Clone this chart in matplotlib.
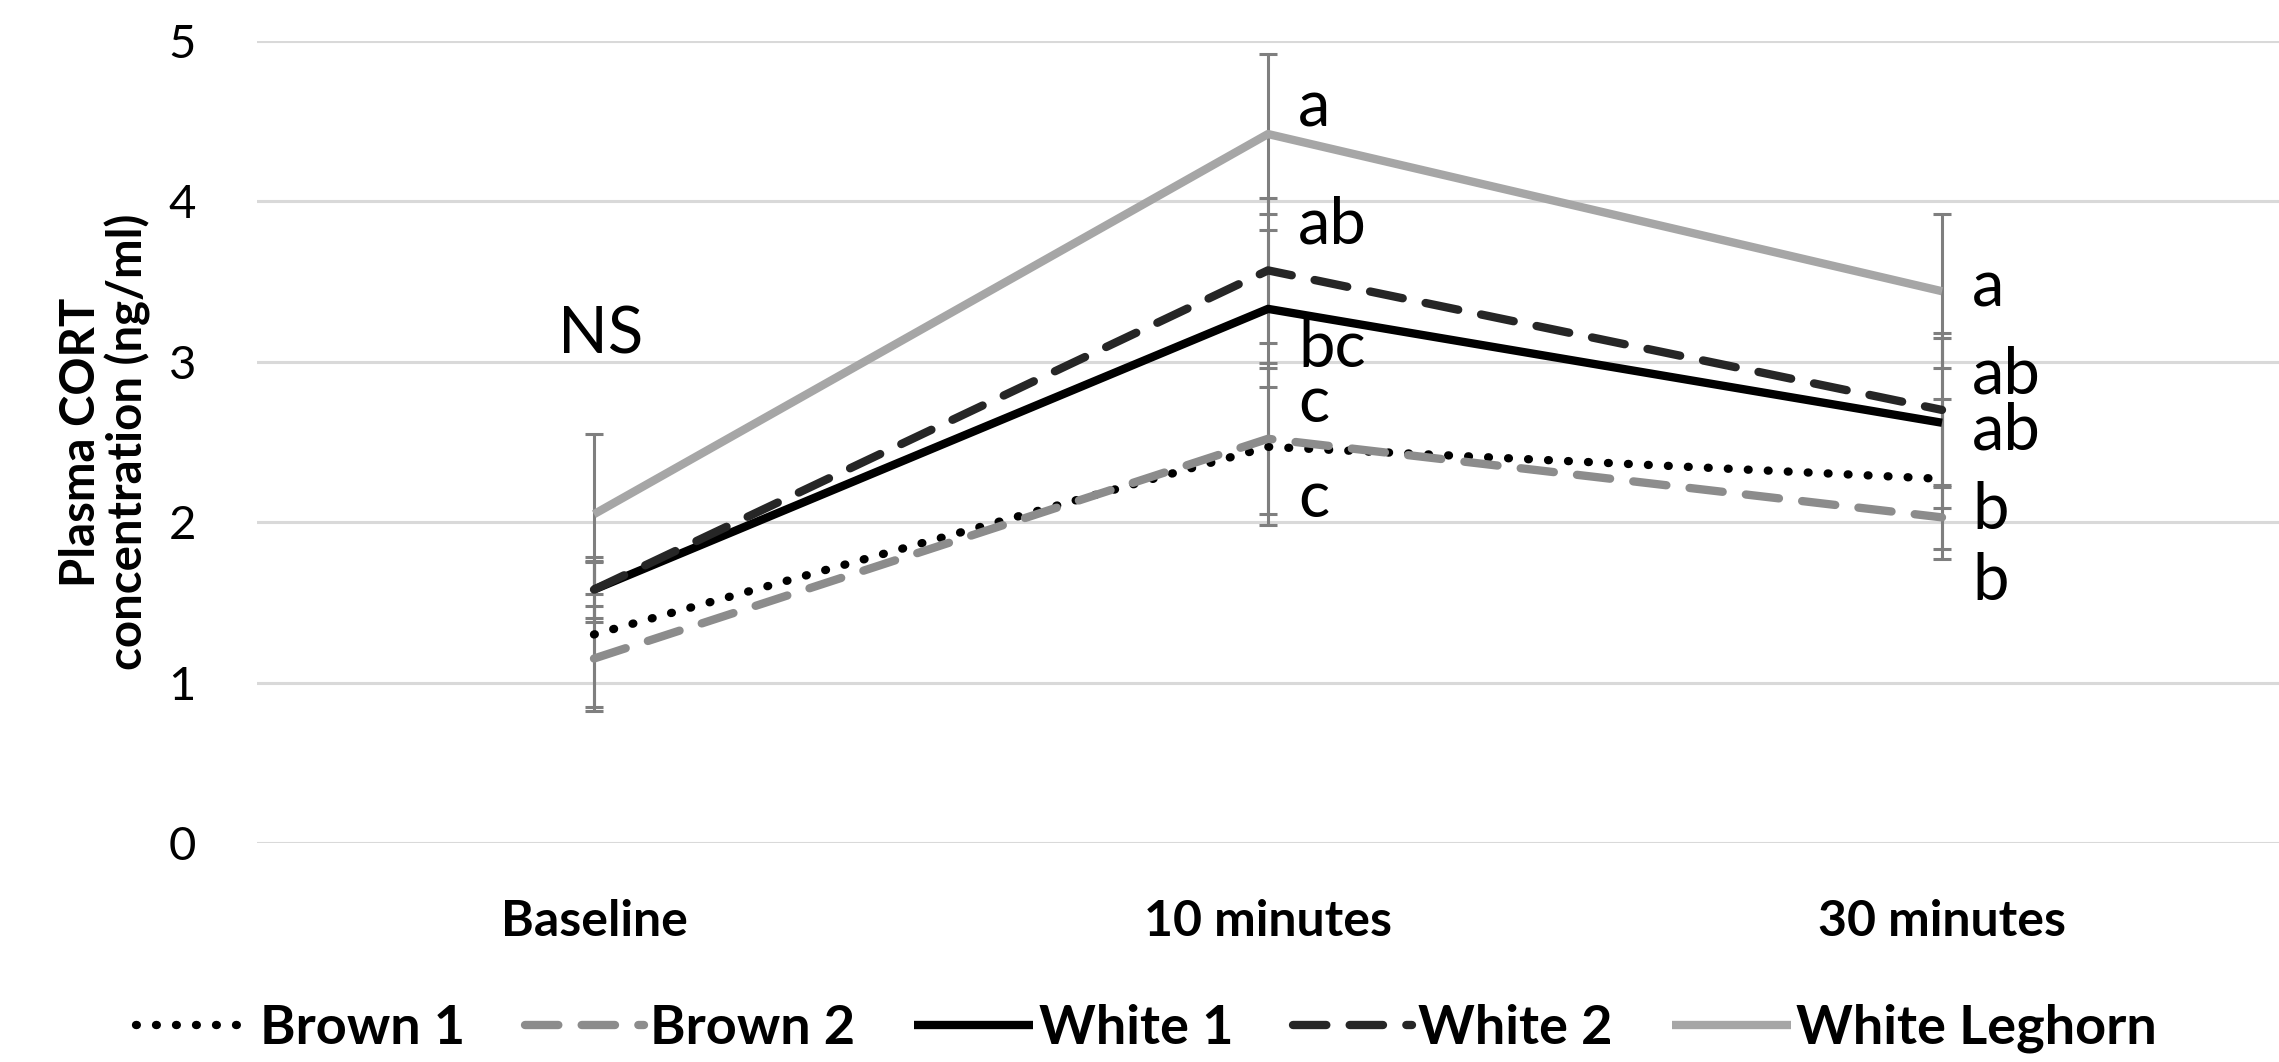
import numpy as np
import matplotlib
matplotlib.use("Agg")
import matplotlib.pyplot as plt

plt.rcParams['font.family'] = ['Lato', 'DejaVu Sans']

# data
categories = ["Baseline", "10 minutes", "30 minutes"]
series = ["Brown 1", "Brown 2", "White 1", "White 2", "White Leghorn"]
brown1 = [1.30, 2.47, 2.27]
brown2 = [1.15, 2.52, 2.03]
white1 = [1.58, 3.33, 2.62]
white2 = [1.58, 3.57, 2.70]
leghorn = [2.05, 4.42, 3.44]
brown1_err = [0.45, 0.49, 0.50]
brown2_err = [0.33, 0.47, 0.20]
white1_err = [0.18, 0.49, 0.53]
white2_err = [0.20, 0.45, 0.48]
leghorn_err = [0.50, 0.50, 0.48]

# significance letters (category index, y, text)
sig_x = [0, 1, 1, 1, 1, 1, 2, 2, 2, 2, 2]
sig_y = [3.17, 4.58, 3.85, 3.08, 2.74, 2.15, 3.46, 2.92, 2.57, 2.07, 1.63]
sig_text = ["NS", "a", "ab", "bc", "c", "c", "a", "ab", "ab", "b", "b"]

values = [brown1, brown2, white1, white2, leghorn]
errors = [brown1_err, brown2_err, white1_err, white2_err, leghorn_err]
colors = ["black", "#8c8c8c", "black", "#262626", "#a6a6a6"]
styles = [(0, (0.1, 2.3)), (0, (4, 2.8)), "-", (0, (4, 2.8)), "-"]
caps = ["round", "round", "butt", "round", "butt"]

fig = plt.figure(figsize=(22.79, 10.62), dpi=100)
ax = fig.add_axes([257 / 2279, 1 - 843 / 1062, 1 - 257 / 2279, (843 - 41) / 1062])

x = np.arange(len(categories))
for v, e in zip(values, errors):
    ax.errorbar(x, v, yerr=e, fmt="none", ecolor="#7f7f7f", elinewidth=2.2,
                capsize=6.5, capthick=2.2, zorder=2)
for name, v, c, ls, cs in zip(series, values, colors, styles, caps):
    ax.plot(x, v, color=c, linestyle=ls, linewidth=6, label=name,
            dash_capstyle=cs, solid_capstyle="butt", zorder=3)

for i, yv, t in zip(sig_x, sig_y, sig_text):
    if t == "NS":
        ax.text(i + 0.01, yv, t, fontsize=47, ha="center", va="center", zorder=4)
    else:
        ax.text(i + 0.045, yv, t, fontsize=47, ha="left", va="center", zorder=4)

ax.set_xlim(-0.5, 2.5)
ax.set_ylim(0, 5)
ax.set_yticks(range(6))
ax.set_xticks(x)
ax.set_xticklabels(categories, fontsize=36, fontweight="bold")
ax.tick_params(axis="x", length=0, pad=40)
ax.tick_params(axis="y", length=0, pad=44, labelsize=34)
ax.grid(axis="y", color="#d9d9d9", linewidth=2.2, zorder=0)
ax.set_axisbelow(True)
for s in ax.spines.values():
    s.set_visible(False)

fig.text(105 / 2279, 1 - 442 / 1062, "Plasma CORT\nconcentration (ng/ml)",
         rotation=90, ha="center", va="center", fontsize=34, fontweight="bold",
         multialignment="center", linespacing=1.05)

fig.legend(loc="lower center", bbox_to_anchor=(0.503, -0.012), ncol=5, frameon=False,
           prop={"size": 39, "weight": "bold"}, handlelength=2.2, handletextpad=0.1,
           columnspacing=1.1, borderaxespad=0.0)

fig.savefig("out.png", dpi=100, facecolor="white")
